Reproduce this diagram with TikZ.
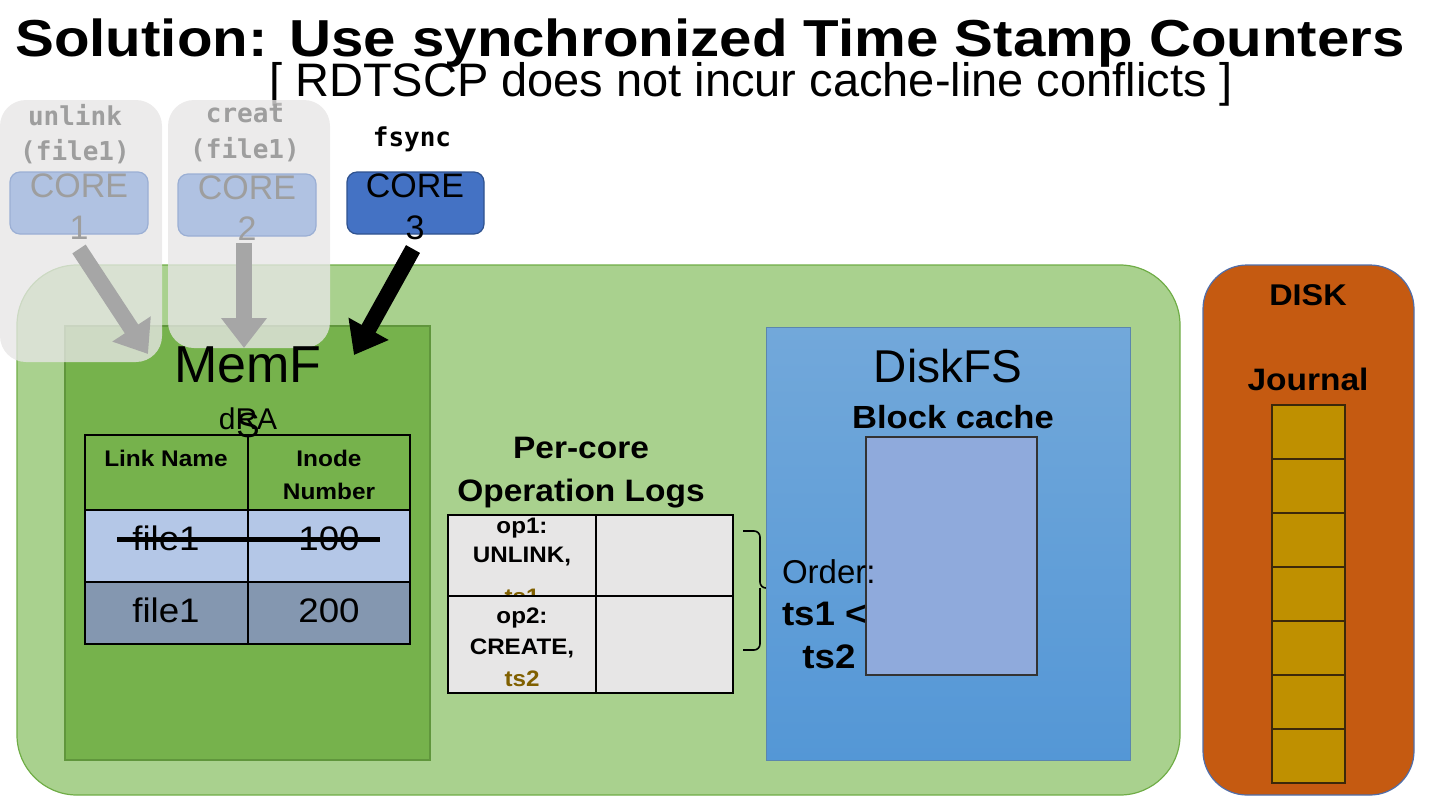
\documentclass[tikz,border=0pt]{standalone}
\usepackage{fontspec}
\setmainfont{Liberation Sans}
\setmonofont{DejaVu Sans Mono}
\newfontfamily\titlef[FakeStretch=1.12]{Liberation Sans}
\newfontfamily\labf[FakeStretch=1.08]{Liberation Sans}
\usetikzlibrary{arrows.meta,fit}
\definecolor{bggreen}{RGB}{169,209,142}
\definecolor{bgedge}{RGB}{112,173,71}
\definecolor{memgreen}{RGB}{118,178,76}
\definecolor{memedge}{RGB}{96,150,60}
\definecolor{graybox}{RGB}{231,230,230}
\definecolor{fadecore}{RGB}{176,194,226}
\definecolor{fadeedge}{RGB}{155,175,212}
\definecolor{fadetext}{RGB}{158,158,158}
\definecolor{corethree}{RGB}{68,114,196}
\definecolor{coreedge}{RGB}{47,82,143}
\definecolor{arrowgray}{RGB}{166,166,166}
\definecolor{rowone}{RGB}{180,199,231}
\definecolor{rowtwo}{RGB}{132,151,176}
\definecolor{opgray}{RGB}{231,230,230}
\definecolor{tsgold}{RGB}{128,96,0}
\definecolor{dfstop}{RGB}{114,168,218}
\definecolor{dfsbot}{RGB}{84,151,214}
\definecolor{cachefill}{RGB}{143,170,220}
\definecolor{diskfill}{RGB}{197,90,17}
\definecolor{diskedge}{RGB}{80,110,170}
\definecolor{jfill}{RGB}{191,144,0}
\definecolor{jedge}{RGB}{60,40,10}
\begin{document}
\begin{tikzpicture}[x=0.5pt,y=-0.5pt,
  every node/.style={inner sep=0pt, outer sep=0pt},
  area/.style={inner sep=0pt, outer sep=0pt},
  tablecell/.style={area, draw=black, line width=0.8pt},
  opcell/.style={area, draw=black, line width=0.6pt, fill=opgray},
  jcell/.style={area, draw=jedge, line width=0.7pt, fill=jfill},
  corebox/.style={area, rounded corners=5pt, line width=0.6pt},
  fadebox/.style={area, rounded corners=13pt, fill=graybox, fill opacity=0.78},
  coretext/.style={anchor=base, font=\fontsize{17}{20}\selectfont},
  codetext/.style={anchor=base, font=\ttfamily\bfseries\fontsize{13}{15}\selectfont},
  oplab/.style={anchor=base, font=\labf\bfseries\fontsize{11.2}{13}\selectfont},
  blockarrow/.style={line width=8pt, -{Triangle[length=15pt,width=22pt]}},
]
\useasboundingbox (0,0) rectangle (1440,810);

% title
\node[anchor=base] (title) at (710,56) {\titlef\bfseries\fontsize{26}{30}\selectfont Solution: Use synchronized Time Stamp Counters};
\node[anchor=base] (subtitle) at (751,96) {\fontsize{23.5}{27}\selectfont [ RDTSCP does not incur cache-line conflicts ]};

% big green background
\node[area, fit={(17,265) (1180,795)}, rounded corners=30pt, fill=bggreen, draw=bgedge, line width=0.6pt] (kernel) {};

% MemFS
\node[area, fit={(65,326) (430,760)}, fill=memgreen, draw=memedge, line width=0.8pt] (memfs) {};

% directory table
\node[tablecell, fill=memgreen, fit={(85,435) (248,510)}] (h1) {};
\node[tablecell, fill=memgreen, fit={(248,435) (410,510)}] (h2) {};
\node[tablecell, fill=rowone, fit={(85,510) (248,582)}] (r1a) {};
\node[tablecell, fill=rowone, fit={(248,510) (410,582)}] (r1b) {};
\node[tablecell, fill=rowtwo, fit={(85,582) (248,644)}] (r2a) {};
\node[tablecell, fill=rowtwo, fit={(248,582) (410,644)}] (r2b) {};
\node[anchor=base, font=\labf\bfseries\fontsize{11.3}{13}\selectfont] (tlink) at (166,466) {Link Name};
\node[anchor=base, font=\labf\bfseries\fontsize{11.3}{13}\selectfont] (tinode) at (329,466) {Inode};
\node[anchor=base, font=\labf\bfseries\fontsize{11.3}{13}\selectfont] (tnum) at (329,499) {Number};
\node[anchor=base, font=\labf\fontsize{17}{20}\selectfont] (f1) at (166,550) {file1};
\node[anchor=base, font=\labf\fontsize{17}{20}\selectfont] (n100) at (329,550) {100};
\coordinate (strikeL) at (117,539);
\coordinate (strikeR) at (380,539);
\draw[line width=2.5pt] (strikeL) -- (strikeR);
\node[anchor=base, font=\labf\fontsize{17}{20}\selectfont] (f2) at (166,622) {file1};
\node[anchor=base, font=\labf\fontsize{17}{20}\selectfont] (n200) at (329,622) {200};

% per-core operation logs
\node[anchor=base, font=\labf\bfseries\fontsize{15.5}{18}\selectfont] (percore) at (581,458) {Per-core};
\node[anchor=base, font=\labf\bfseries\fontsize{15.5}{18}\selectfont] (oplogs) at (581,501) {Operation Logs};
\node[opcell, fit={(448,515) (596,596)}] (o1a) {};
\node[opcell, fit={(596,515) (733,596)}] (o1b) {};
\node[oplab] (op1) at (522,533) {op1:};
\node[oplab] (unl) at (522,562) {UNLINK,};
\node[oplab, text=tsgold] (ts1c) at (522,604) {ts1};
\node[opcell, fit={(448,596) (596,693)}] (o2a) {};
\node[opcell, fit={(596,596) (733,693)}] (o2b) {};
\node[oplab] (op2) at (522,623) {op2:};
\node[oplab] (cre) at (522,654) {CREATE,};
\node[oplab, text=tsgold] (ts2c) at (522,686) {ts2};

% brace
\coordinate (brTop) at (743,531);
\coordinate (brMid) at (778,588);
\coordinate (brBot) at (743,650);
\draw[line width=0.8pt, rounded corners=3pt] (brTop) -- (760,531) -- (760,588) -- (brMid);
\draw[line width=0.8pt, rounded corners=3pt] (brBot) -- (760,650) -- (760,588);

% DiskFS
\node[area, fit={(766,327) (1130,760)}, top color=dfstop, bottom color=dfsbot, draw=dfstop!80!black, line width=0.4pt] (diskfs) {};
\node[anchor=base, font=\fontsize{23}{27}\selectfont] (dfslab) at (948,382) {DiskFS};
\node[anchor=base, font=\labf\bfseries\fontsize{16}{19}\selectfont] (bclab) at (953,428) {Block cache};
\node[area, fit={(866,437) (1037,675)}, fill=cachefill, draw=black!80, line width=0.6pt] (cache) {};
\node[anchor=base west, font=\fontsize{16.5}{19}\selectfont] (order) at (782,583) {Order:};
\node[anchor=base west, font=\labf\bfseries\fontsize{17}{20}\selectfont] (tsa) at (782,625) {ts1 <};
\node[anchor=base, font=\labf\bfseries\fontsize{17}{20}\selectfont] (tsb) at (829,668) {ts2};

% DISK
\node[area, fit={(1203,265) (1414,795)}, rounded corners=22pt, fill=diskfill, draw=diskedge, line width=0.6pt] (disk) {};
\node[anchor=base, font=\labf\bfseries\fontsize{15}{18}\selectfont] (disklab) at (1308,305) {DISK};
\node[anchor=base, font=\labf\bfseries\fontsize{15.5}{18}\selectfont] (jlab) at (1308,390) {Journal};
\node[jcell, fit={(1272,405) (1345,459)}] (j1) {};
\node[jcell, fit={(1272,459) (1345,513)}] (j2) {};
\node[jcell, fit={(1272,513) (1345,567)}] (j3) {};
\node[jcell, fit={(1272,567) (1345,621)}] (j4) {};
\node[jcell, fit={(1272,621) (1345,675)}] (j5) {};
\node[jcell, fit={(1272,675) (1345,729)}] (j6) {};
\node[jcell, fit={(1272,729) (1345,783)}] (j7) {};

% faded core columns
\node[fadebox, fit={(0,100) (162,362)}] (col1) {};
\node[fadebox, fit={(168,100) (330,348)}] (col2) {};

% MemFS title (drawn over columns)
\node[anchor=base, font=\fontsize{26}{30}\selectfont] (memlab) at (248,382) {MemF};
\node[anchor=base, font=\fontsize{15}{18}\selectfont] (dralab) at (248,429) {dRA};
\node[anchor=base, font=\fontsize{17.5}{20}\selectfont] (slab) at (248,437) {S};

% cores
\node[corebox, fit={(10,172) (148,234)}, fill=fadecore, draw=fadeedge] (core1) {};
\node[corebox, fit={(178,174) (316,236)}, fill=fadecore, draw=fadeedge] (core2) {};
\node[corebox, fit={(347,172) (484,234)}, fill=corethree, draw=coreedge] (core3) {};
\node[coretext, text=fadetext] (c1a) at (79,197) {CORE};
\node[coretext, text=fadetext] (c1b) at (79,239) {1};
\node[coretext, text=fadetext] (c2a) at (247,199) {CORE};
\node[coretext, text=fadetext] (c2b) at (247,240) {2};
\node[coretext] (c3a) at (415,197) {CORE};
\node[coretext] (c3b) at (415,239) {3};

% syscalls
\node[codetext, text=fadetext] (u1) at (75,125) {unlink};
\node[codetext, text=fadetext] (u2) at (75,160) {(file1)};
\node[codetext, text=fadetext] (k1) at (245,122) {creat};
\node[codetext, text=fadetext] (k2) at (245,158) {(file1)};
\node[codetext] (fs) at (412,146) {fsync};

% arrows
\coordinate (a1s) at (79,249);
\coordinate (a1e) at (148,354);
\coordinate (a2s) at (244,243);
\coordinate (a2e) at (244,348);
\coordinate (a3s) at (413,249);
\coordinate (a3e) at (354,355);
\draw[blockarrow, draw=arrowgray, fill=arrowgray] (a1s) -- (a1e);
\draw[blockarrow, draw=arrowgray, fill=arrowgray] (a2s) -- (a2e);
\draw[blockarrow, draw=black, fill=black] (a3s) -- (a3e);
\end{tikzpicture}
\end{document}
